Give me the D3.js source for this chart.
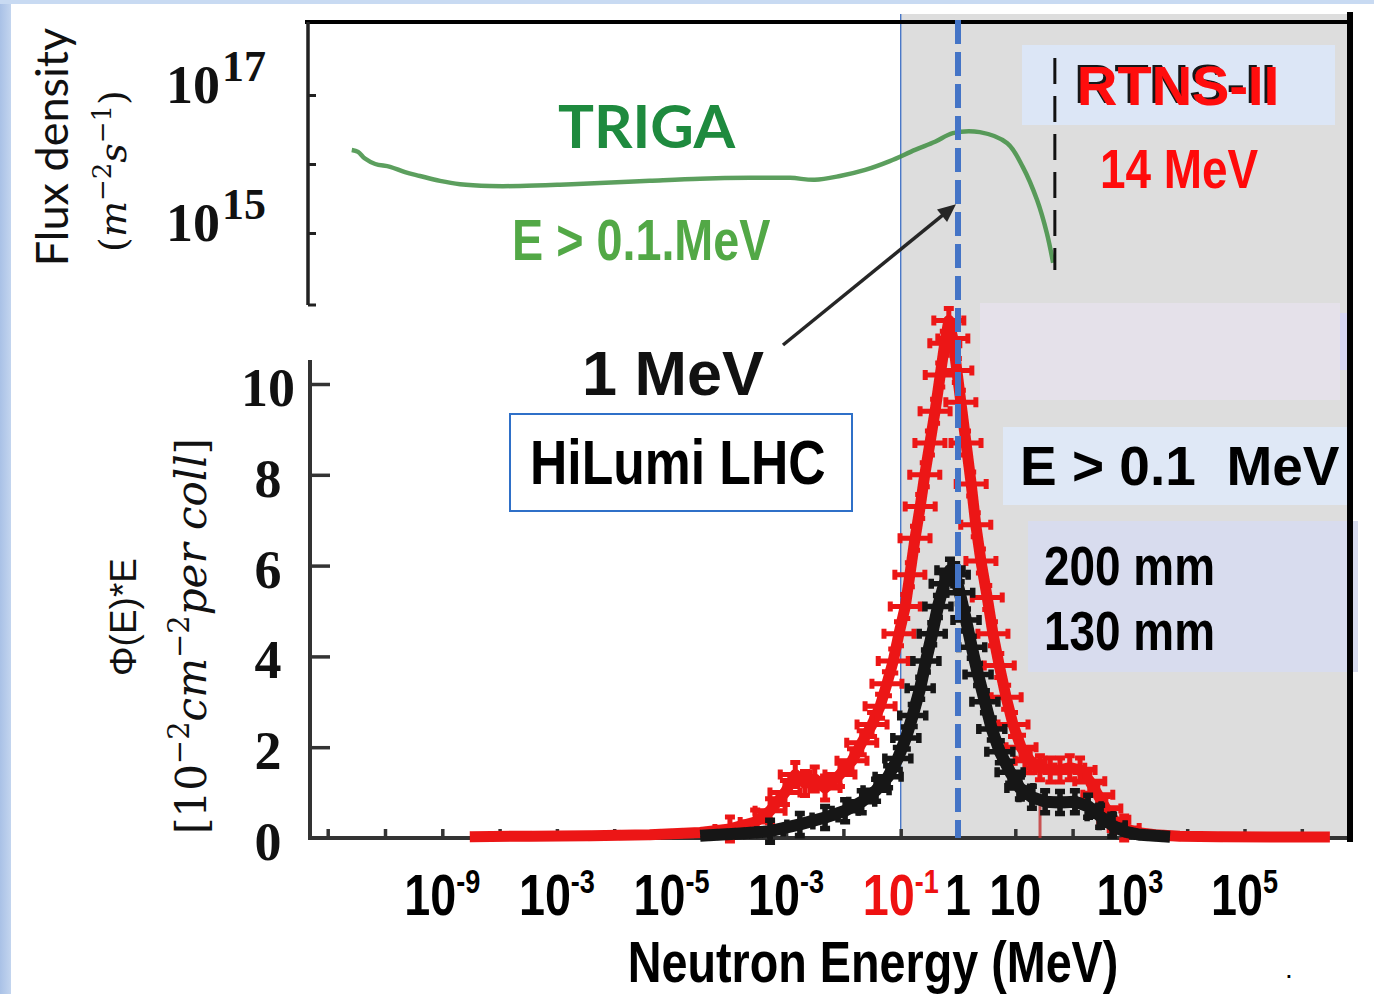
<!DOCTYPE html>
<html><head><meta charset="utf-8">
<script src="https://cdn.jsdelivr.net/npm/d3@7/dist/d3.min.js"></script>
<style>
html,body{margin:0;padding:0;background:#fff;}
svg{display:block;}
</style></head><body>
<svg id="c" width="1374" height="994"></svg>
<script>
// ---------------- DATA ----------------
// TRIGA flux density (top panel): log10(E/MeV) and flux (m^-2 s^-1)
const trigaLogE = [-10.58,-10.47,-10.35,-10.17,-9.91,-9.65,-9.39,-9.04,-8.69,-8.17,-7.64,-6.95,-6.25,-5.38,-4.50,-3.63,-2.93,-2.50,-2.06,-1.62,-1.19,-0.75,-0.40,-0.09,0.38,0.86,1.13,1.38,1.55,1.66];
const trigaFlux = [1.6e16,1.5e16,1.2e16,1.0e16,9.1e15,7.6e15,6.7e15,5.7e15,5.1e15,4.8e15,4.8e15,5.0e15,5.3e15,5.7e15,6.1e15,6.3e15,6.3e15,5.9e15,6.7e15,8.2e15,1.1e16,1.6e16,2.1e16,2.8e16,2.9e16,2.0e16,9.1e15,3.0e15,1.0e15,3.7e14];

// HiLumi LHC spectra Phi(E)*E [1e-2 cm^-2 per coll] (bottom panel)
const redLogE = [-8.52,-7.47,-6.42,-5.38,-4.50,-3.98,-3.54,-3.28,-3.02,-2.84,-2.67,-2.50,-2.32,-2.06,-1.85,-1.68,-1.50,-1.36,-1.24,-1.13,-1.03,-0.92,-0.84,-0.75,-0.66,-0.58,-0.49,-0.40,-0.31,-0.23,-0.16,-0.09,-0.02,0.05,0.14,0.23,0.31,0.40,0.51,0.61,0.72,0.84,0.96,1.10,1.26,1.43,1.61,1.78,1.95,2.13,2.30,2.44,2.58,2.72,2.90,3.11,3.44,3.87,4.57,5.45,6.49];
const redPhiE = [0.03,0.04,0.05,0.07,0.12,0.2,0.35,0.6,1.0,1.4,1.2,1.3,1.1,1.4,1.7,2.1,2.5,2.9,3.4,3.9,4.5,5.1,5.8,6.6,7.3,8.0,8.7,9.4,10.2,10.9,11.4,11.0,10.3,9.6,8.7,7.8,6.9,6.1,5.3,4.5,3.8,3.1,2.5,2.0,1.7,1.55,1.5,1.5,1.55,1.5,1.25,0.95,0.65,0.4,0.22,0.12,0.07,0.04,0.03,0.02,0.02];
const blackLogE = [-4.50,-3.80,-3.28,-2.76,-2.32,-1.97,-1.68,-1.43,-1.22,-1.05,-0.91,-0.79,-0.66,-0.56,-0.45,-0.35,-0.24,-0.14,-0.05,0.03,0.14,0.24,0.35,0.47,0.59,0.73,0.91,1.08,1.29,1.52,1.78,2.04,2.27,2.48,2.69,2.91,3.18,3.70];
const blackPhiE = [0.05,0.1,0.15,0.3,0.45,0.6,0.8,1.05,1.35,1.75,2.2,2.7,3.3,3.9,4.5,5.1,5.6,5.9,5.8,5.4,4.8,4.2,3.6,3.0,2.4,1.9,1.45,1.1,0.9,0.8,0.78,0.8,0.7,0.48,0.28,0.14,0.07,0.03];

// Axis ticks and labels (labels as printed in the figure)
const xTickExp = [-9,-7,-5,-3,-1,0,1,3,5];
const xTickBase = ["10","10","10","10","10","1","10","10","10"];
const xTickSup  = ["-9","-3","-5","-3","-1","","","3","5"];
const xTickRed  = [false,false,false,false,true,false,false,false,false];
const xMinorDecades = [-11,-10,-9,-8,-7,-6,-5,-4,-3,-2,-1,0,1,2,3,4,5,6];
const yBotTicks = [0,2,4,6,8,10];
const yTopTicks = [1e15,1e16,1e17];
const yTopLabelVals = [1e15,1e17];
const yTopLabelSup = ["15","17"];

// Reference energies (MeV)
const shadeFromE = 0.1;
const oneMeV = 1;
const rtnsLineE = 49;
const lowerMarkE = 27;

// ---------------- LAYOUT ----------------
const svg = d3.select("#c");
const W = 1374, H = 994;
const sans = "'Liberation Sans',Arial,sans-serif";
const serif = "'Liberation Serif','Times New Roman',serif";
const mserif = "'DejaVu Serif',serif";
const NARROW = 0.82;

const x = d3.scaleLog().domain([1e-12,1e7]).range([270.4,1359.1]);
const yTop = d3.scaleLog().domain([1e15,1e17]).range([233,95]);
const yBot = d3.scaleLinear().domain([0,10]).range([838,384]);

const axisLeftX = 308, axisRightX = 1350, topFrameY = 22, topAxisBottom = 305;
const botAxisTop = 360, botAxisY = 838;

const defs = svg.append("defs");
const gl = defs.append("linearGradient").attr("id","lg").attr("x1",0).attr("x2",1);
gl.append("stop").attr("offset","0%").attr("stop-color","#a9c1e6");
gl.append("stop").attr("offset","100%").attr("stop-color","#c3d5ef");
const sh = defs.append("filter").attr("id","shadow").attr("x","-10%").attr("y","-20%").attr("width","120%").attr("height","140%");
sh.append("feDropShadow").attr("dx",-3).attr("dy",-2).attr("stdDeviation",0.6).attr("flood-color","#000").attr("flood-opacity",0.9);
const soft = defs.append("filter").attr("id","soft");
soft.append("feGaussianBlur").attr("stdDeviation",0.7);

function narrowText(px, py, str, size, fill, anchor) {
  return svg.append("text").attr("transform",`translate(${px},${py}) scale(${NARROW},1)`)
    .attr("text-anchor",anchor||"start").attr("font-family",sans).attr("font-weight","bold")
    .attr("font-size",size).attr("fill",fill).text(str);
}

// background border strips
svg.append("rect").attr("x",0).attr("y",0).attr("width",W).attr("height",H).attr("fill","#fff");
svg.append("rect").attr("x",0).attr("y",0).attr("width",11).attr("height",H).attr("fill","url(#lg)");
svg.append("rect").attr("x",0).attr("y",0).attr("width",W).attr("height",4).attr("fill","#c8daf2");

// grey shaded region E > 0.1 MeV
svg.append("rect").attr("x",x(shadeFromE)).attr("y",14)
  .attr("width",axisRightX-x(shadeFromE)).attr("height",botAxisY-14).attr("fill","#dddddd");

// annotation boxes in grey area
svg.append("rect").attr("x",1022).attr("y",45).attr("width",313).attr("height",80).attr("fill","#dce6f6");
svg.append("rect").attr("x",980).attr("y",303).attr("width",360).attr("height",97).attr("fill","#e5e1ea");
svg.append("rect").attr("x",1340).attr("y",313).attr("width",8).attr("height",57).attr("fill","#d6d6f2");
svg.append("rect").attr("x",1003).attr("y",427).attr("width",344).attr("height",78).attr("fill","#dfe8f6");
svg.append("rect").attr("x",1028).attr("y",521).attr("width",330).attr("height",151).attr("fill","#d8dcee");

svg.append("line").attr("x1",x(shadeFromE)).attr("x2",x(shadeFromE)).attr("y1",14).attr("y2",botAxisY)
  .attr("stroke","#4a78c8").attr("stroke-width",1.4);

// ---------------- TOP PANEL ----------------
svg.append("line").attr("x1",305).attr("x2",axisRightX+3).attr("y1",topFrameY).attr("y2",topFrameY)
  .attr("stroke","#000").attr("stroke-width",4);
svg.append("line").attr("x1",axisLeftX).attr("x2",axisLeftX).attr("y1",topFrameY).attr("y2",topAxisBottom)
  .attr("stroke","#222").attr("stroke-width",3.5);
const gTopAxis = svg.append("g").attr("transform",`translate(${axisLeftX},0)`)
  .call(d3.axisLeft(yTop).tickValues(yTopTicks).tickSize(-8).tickFormat(""));
gTopAxis.select(".domain").remove();
gTopAxis.selectAll("line").attr("stroke","#222").attr("stroke-width",3);
svg.append("line").attr("x1",axisLeftX).attr("x2",axisLeftX+8).attr("y1",topAxisBottom).attr("y2",topAxisBottom)
  .attr("stroke","#222").attr("stroke-width",3);

yTopLabelVals.forEach((v,i)=>{
  const t = svg.append("text").attr("x",166).attr("y",yTop(v)+8)
    .attr("font-family",serif).attr("font-weight","bold").attr("font-size",54).attr("fill","#111");
  t.append("tspan").text("10");
  t.append("tspan").attr("dy",-22).attr("font-size",44).attr("dx",2).text(yTopLabelSup[i]);
});

const trigaPts = trigaLogE.map((e,i)=>[Math.pow(10,e),trigaFlux[i]]);
svg.append("path").datum(trigaPts)
  .attr("d",d3.line().x(d=>x(d[0])).y(d=>yTop(d[1])).curve(d3.curveCatmullRom))
  .attr("fill","none").attr("stroke","#3f8f42").attr("stroke-width",4.5).attr("opacity",0.85)
  .attr("filter","url(#soft)");

svg.append("line").attr("x1",x(rtnsLineE)).attr("x2",x(rtnsLineE)).attr("y1",58).attr("y2",270)
  .attr("stroke","#111").attr("stroke-width",3).attr("stroke-dasharray","26,12");

svg.append("text").attr("x",558).attr("y",148).attr("font-family","Lato,"+sans).attr("font-weight","bold")
  .attr("font-size",60).attr("fill","#1e8a3e").text("TRIGA");
narrowText(512,260,"E > 0.1.MeV",57,"#52a846");
svg.append("text").attr("x",1077).attr("y",105).attr("font-family",sans).attr("font-weight","bold")
  .attr("font-size",56).attr("fill","#ff0a0a").attr("filter","url(#shadow)").text("RTNS-II");
narrowText(1100,188,"14 MeV",56,"#ff0a0a");

// ---------------- BOTTOM PANEL ----------------
svg.append("line").attr("x1",310).attr("x2",310).attr("y1",botAxisTop).attr("y2",botAxisY+2)
  .attr("stroke","#333").attr("stroke-width",4);
const gBotY = svg.append("g").attr("transform","translate(310,0)")
  .call(d3.axisLeft(yBot).tickValues(yBotTicks.filter(v=>v>0)).tickSize(-20).tickFormat(""));
gBotY.select(".domain").remove();
gBotY.selectAll("line").attr("stroke","#333").attr("stroke-width",3.5);
yBotTicks.forEach(v=>{
  svg.append("text").attr("x",268).attr("y",yBot(v)+22).attr("text-anchor","middle")
    .attr("font-family",serif).attr("font-weight","bold").attr("font-size",54).attr("fill","#111").text(v);
});

svg.append("line").attr("x1",308).attr("x2",axisRightX).attr("y1",botAxisY).attr("y2",botAxisY)
  .attr("stroke","#333").attr("stroke-width",4);
const gX = svg.append("g").attr("transform",`translate(0,${botAxisY})`)
  .call(d3.axisBottom(x).tickValues(xMinorDecades.map(e=>Math.pow(10,e))).tickSize(-9).tickFormat(""));
gX.select(".domain").remove();
gX.selectAll("line").attr("stroke","#333").attr("stroke-width",3.5);

svg.append("line").attr("x1",x(lowerMarkE)).attr("x2",x(lowerMarkE)).attr("y1",800).attr("y2",botAxisY)
  .attr("stroke","#c43030").attr("stroke-width",3).attr("opacity",0.8);

function drawSeries(logE, vals, color, lw, hx, hy, mw) {
  const pts = logE.map((e,i)=>[x(Math.pow(10,e)), yBot(vals[i])]);
  const g = svg.append("g").attr("filter","url(#soft)");
  g.append("path").datum(pts).attr("d",d3.line())
    .attr("fill","none").attr("stroke",color).attr("stroke-width",lw).attr("stroke-linejoin","round");
  const c = 5;
  const gm = g.append("g").attr("stroke",color).attr("stroke-width",mw).attr("fill","none");
  pts.forEach((p,i)=>{
    if (vals[i] < 0.15) return;
    const [px,py] = p;
    gm.append("path").attr("d",
      `M${px-hx},${py}L${px+hx},${py}M${px-hx},${py-c}L${px-hx},${py+c}M${px+hx},${py-c}L${px+hx},${py+c}`+
      `M${px},${py-hy}L${px},${py+hy}M${px-c},${py-hy}L${px+c},${py-hy}M${px-c},${py+hy}L${px+c},${py+hy}`);
  });
}
drawSeries(redLogE, redPhiE, "#ec1616", 11, 15, 12, 5);
drawSeries(blackLogE, blackPhiE, "#141414", 12, 13, 11, 5.5);

svg.append("line").attr("x1",x(oneMeV)).attr("x2",x(oneMeV)).attr("y1",20).attr("y2",botAxisY)
  .attr("stroke","#4474c6").attr("stroke-width",6).attr("stroke-dasharray","24,8");

svg.append("line").attr("x1",axisRightX).attr("x2",axisRightX).attr("y1",12).attr("y2",842)
  .attr("stroke","#000").attr("stroke-width",6);

const ax0 = 783, ay0 = 345, ax1 = x(oneMeV)-2, ay1 = yTop(2.6e15);
const ang = Math.atan2(ay1-ay0, ax1-ax0);
svg.append("line").attr("x1",ax0).attr("y1",ay0).attr("x2",ax1-12*Math.cos(ang)).attr("y2",ay1-12*Math.sin(ang))
  .attr("stroke","#262626").attr("stroke-width",3.5);
const ah = 18, aw = 8;
const bx = ax1-ah*Math.cos(ang), by = ay1-ah*Math.sin(ang);
svg.append("path").attr("d",`M${ax1},${ay1}L${bx+aw*Math.sin(ang)},${by-aw*Math.cos(ang)}L${bx-aw*Math.sin(ang)},${by+aw*Math.cos(ang)}Z`)
  .attr("fill","#262626");

svg.append("text").attr("x",582).attr("y",395).attr("font-family",sans).attr("font-weight","bold")
  .attr("font-size",63).attr("fill","#111").text("1 MeV");
svg.append("rect").attr("x",510).attr("y",414).attr("width",342).attr("height",97)
  .attr("fill","#fff").attr("stroke","#2f70c8").attr("stroke-width",2);
narrowText(530,484,"HiLumi LHC",63,"#000");
svg.append("text").attr("x",1020).attr("y",485).attr("font-family",sans).attr("font-weight","bold")
  .attr("font-size",55).attr("fill","#000").attr("xml:space","preserve").text("E > 0.1  MeV");
narrowText(1044,585,"200 mm",56,"#000");
narrowText(1044,650,"130 mm",56,"#000");

xTickExp.forEach((e,i)=>{
  const t = svg.append("text").attr("transform",`translate(${x(Math.pow(10,e))},915) scale(${NARROW},1)`)
    .attr("text-anchor","middle")
    .attr("font-family",sans).attr("font-weight","bold").attr("font-size",57)
    .attr("fill", xTickRed[i] ? "#ee1111" : "#000");
  t.append("tspan").text(xTickBase[i]);
  if (xTickSup[i]) t.append("tspan").attr("dy",-22).attr("font-size",33).text(xTickSup[i]);
});
narrowText(873,982,"Neutron Energy (MeV)",57,"#000","middle");
svg.append("text").attr("x",1285).attr("y",978).attr("font-family",sans).attr("font-size",28).text(".");

svg.append("text").attr("transform","translate(68,147) rotate(-90)").attr("text-anchor","middle")
  .attr("font-family","Lato,"+sans).attr("font-size",45).attr("fill","#111").text("Flux density");
const t2 = svg.append("text").attr("transform","translate(126,171) rotate(-90)").attr("text-anchor","middle")
  .attr("font-family",mserif).attr("font-size",38).attr("fill","#111");
t2.append("tspan").text("(");
t2.append("tspan").attr("font-style","italic").text("m");
t2.append("tspan").attr("dy",-15).attr("font-size",26).text("−2");
t2.append("tspan").attr("dy",15).attr("font-style","italic").text("s");
t2.append("tspan").attr("dy",-15).attr("font-size",26).text("−1");
t2.append("tspan").attr("dy",15).text(")");

svg.append("text").attr("transform","translate(136,617) rotate(-90)").attr("text-anchor","middle")
  .attr("font-family",sans).attr("font-size",37).attr("fill","#111").text("Φ(E)*E");
const t4 = svg.append("text").attr("transform","translate(206,636) rotate(-90)").attr("text-anchor","middle")
  .attr("font-family",mserif).attr("font-size",42).attr("fill","#111");
t4.append("tspan").text("[10");
t4.append("tspan").attr("dy",-17).attr("font-size",29).text("−2");
t4.append("tspan").attr("dy",17).attr("font-style","italic").text("cm");
t4.append("tspan").attr("dy",-17).attr("font-size",29).text("−2");
t4.append("tspan").attr("dy",17).attr("font-style","italic").text("per coll");
t4.append("tspan").text("]");
</script>
</body></html>
